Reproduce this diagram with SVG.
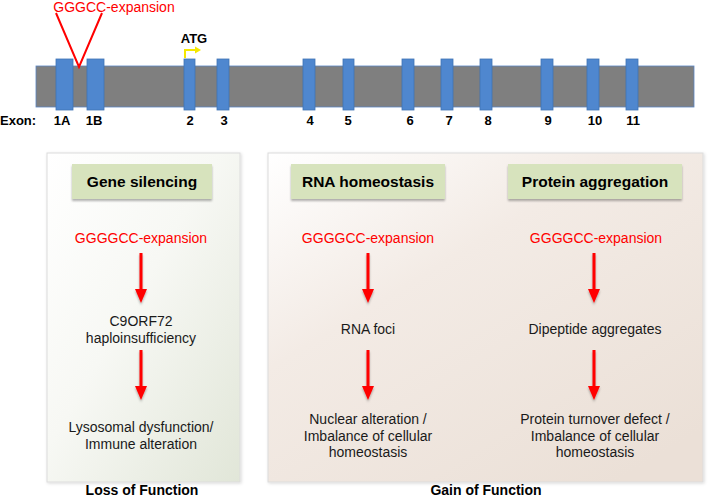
<svg xmlns="http://www.w3.org/2000/svg" width="708" height="499" viewBox="0 0 708 499">
<style>
text{font-family:"Liberation Sans",Arial,sans-serif;}
.exon{fill:#4f87cf;stroke:#3f73b5;stroke-width:0.8;}
.lbl{font-size:13px;font-weight:bold;fill:#000;text-anchor:middle;}
.hdr{fill:#d7e3bd;}
.htxt{font-size:15.5px;font-weight:bold;fill:#000;text-anchor:middle;}
.red{font-size:14px;fill:#ff0000;text-anchor:middle;}
.body{font-size:14px;fill:#1a1a1a;text-anchor:middle;}
.foot{font-size:14px;font-weight:bold;fill:#000;text-anchor:middle;}
.arr{stroke:#ff0000;stroke-width:3;fill:none;}
.ah{fill:#ff0000;}
</style>
<defs>
<linearGradient id="gL" x1="0" y1="0" x2="1" y2="1">
<stop offset="0" stop-color="#ffffff"/>
<stop offset="0.45" stop-color="#f7f8f4"/>
<stop offset="1" stop-color="#e1e6d8"/>
</linearGradient>
<linearGradient id="gR" x1="0" y1="0" x2="0.8" y2="1">
<stop offset="0" stop-color="#ffffff"/>
<stop offset="0.4" stop-color="#f3ebe5"/>
<stop offset="1" stop-color="#ebe0d7"/>
</linearGradient>
<filter id="sh" x="-10%" y="-10%" width="130%" height="140%">
<feDropShadow dx="0" dy="2" stdDeviation="1.2" flood-color="#000" flood-opacity="0.3"/>
</filter>
<filter id="psh" x="-5%" y="-5%" width="110%" height="110%">
<feDropShadow dx="1" dy="1" stdDeviation="1.5" flood-color="#000" flood-opacity="0.15"/>
</filter>
</defs>

<g id="gene">
<rect x="36" y="66" width="658" height="41" fill="#7f7f7f" stroke="#5b86c4" stroke-width="0.8"/>
<rect class="exon" x="56" y="59" width="17" height="51"/>
<rect class="exon" x="87" y="59" width="17" height="51"/>
<rect class="exon" x="184" y="59" width="11" height="51"/>
<rect class="exon" x="217" y="59" width="12" height="51"/>
<rect class="exon" x="303" y="59" width="12" height="51"/>
<rect class="exon" x="343" y="59" width="11" height="51"/>
<rect class="exon" x="402" y="59" width="12" height="51"/>
<rect class="exon" x="441" y="59" width="12" height="51"/>
<rect class="exon" x="480" y="59" width="12" height="51"/>
<rect class="exon" x="541" y="59" width="12" height="51"/>
<rect class="exon" x="587" y="59" width="12" height="51"/>
<rect class="exon" x="626" y="59" width="12" height="51"/>
<text x="0" y="125" font-size="13" font-weight="bold" fill="#000">Exon:</text>
<text class="lbl" x="62" y="125">1A</text>
<text class="lbl" x="94" y="125">1B</text>
<text class="lbl" x="190" y="125">2</text>
<text class="lbl" x="224" y="125">3</text>
<text class="lbl" x="310" y="125">4</text>
<text class="lbl" x="348" y="125">5</text>
<text class="lbl" x="410" y="125">6</text>
<text class="lbl" x="449" y="125">7</text>
<text class="lbl" x="488" y="125">8</text>
<text class="lbl" x="548" y="125">9</text>
<text class="lbl" x="595" y="125">10</text>
<text class="lbl" x="633" y="125">11</text>
</g>

<g id="expansion-site">
<polyline points="56,13 79,67 102,13" fill="none" stroke="#ff0000" stroke-width="2"/>
<text x="114" y="12" font-size="14" fill="#ff0000" text-anchor="middle">GGGCC-expansion</text>
</g>

<g id="atg">
<text x="194" y="43" font-size="13" font-weight="bold" fill="#000" text-anchor="middle">ATG</text>
<polyline points="185,58 185,50 196,50" fill="none" stroke="#f5e800" stroke-width="2"/>
<polygon points="195,46.5 201,50 195,53.5" fill="#f5e800"/>
</g>

<g id="panel-loss">
<rect x="47" y="153" width="193" height="329" fill="url(#gL)" stroke="#dcdcdc" stroke-width="1" filter="url(#psh)"/>
</g>
<g id="panel-gain">
<rect x="268" y="153" width="435" height="329" fill="url(#gR)" stroke="#dcdcdc" stroke-width="1" filter="url(#psh)"/>
</g>

<g id="hdr-gene-silencing">
<rect class="hdr" x="72" y="164" width="140" height="35" filter="url(#sh)"/>
<text class="htxt" x="142" y="187">Gene silencing</text>
</g>
<g id="hdr-rna">
<rect class="hdr" x="291" y="164" width="154" height="35" filter="url(#sh)"/>
<text class="htxt" x="368" y="187">RNA homeostasis</text>
</g>
<g id="hdr-protein">
<rect class="hdr" x="508" y="164" width="174" height="35" filter="url(#sh)"/>
<text class="htxt" x="595" y="187">Protein aggregation</text>
</g>

<g id="col1-expansion"><text class="red" x="141" y="243">GGGGCC-expansion</text></g>
<g id="col1-haplo"><text class="body" x="141" y="326">C9ORF72</text><text class="body" x="141" y="343">haploinsufficiency</text></g>
<g id="col1-lyso"><text class="body" x="141" y="432">Lysosomal dysfunction/</text><text class="body" x="141" y="449">Immune alteration</text></g>

<g id="col2-expansion"><text class="red" x="368" y="243">GGGGCC-expansion</text></g>
<g id="col2-foci"><text class="body" x="368" y="334">RNA foci</text></g>
<g id="col2-nuclear"><text class="body" x="368" y="424">Nuclear alteration /</text><text class="body" x="368" y="441">Imbalance of cellular</text><text class="body" x="368" y="457">homeostasis</text></g>

<g id="col3-expansion"><text class="red" x="596" y="243">GGGGCC-expansion</text></g>
<g id="col3-dipeptide"><text class="body" x="595" y="334">Dipeptide aggregates</text></g>
<g id="col3-turnover"><text class="body" x="595" y="424">Protein turnover defect /</text><text class="body" x="595" y="441">Imbalance of cellular</text><text class="body" x="595" y="457">homeostasis</text></g>

<g id="connectors" filter="url(#sh)">
<line class="arr" x1="141" y1="253" x2="141" y2="292"/><polygon class="ah" points="135,289 147,289 141,303"/>
<line class="arr" x1="141" y1="350" x2="141" y2="389"/><polygon class="ah" points="135,386 147,386 141,400"/>
<line class="arr" x1="368" y1="253" x2="368" y2="292"/><polygon class="ah" points="362,289 374,289 368,303"/>
<line class="arr" x1="368" y1="350" x2="368" y2="389"/><polygon class="ah" points="362,386 374,386 368,400"/>
<line class="arr" x1="594" y1="253" x2="594" y2="292"/><polygon class="ah" points="588,289 600,289 594,303"/>
<line class="arr" x1="594" y1="350" x2="594" y2="389"/><polygon class="ah" points="588,386 600,386 594,400"/>
</g>

<g id="footer">
<text class="foot" x="142" y="495">Loss of Function</text>
<text class="foot" x="486" y="495">Gain of Function</text>
</g>
</svg>
